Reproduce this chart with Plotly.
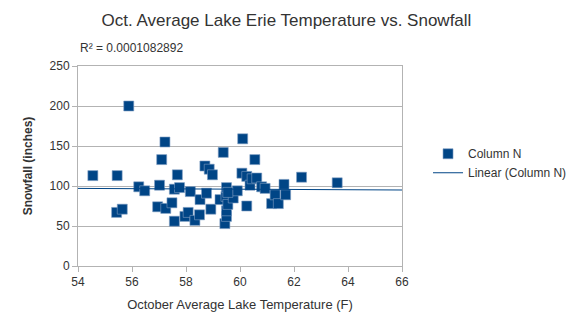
import plotly.graph_objects as go

temps = [54.55, 55.45, 55.43, 55.64, 55.88, 56.25, 56.47, 56.95, 57.02, 57.10,
         57.22, 57.25, 57.48, 57.57, 57.57, 57.68, 57.76, 57.96, 58.08, 58.16,
         58.33, 58.50, 58.52, 58.70, 58.76, 58.86, 58.92, 58.98, 59.26, 59.38,
         59.44, 59.48, 59.50, 59.50, 59.50, 59.55, 59.75, 59.90, 60.07, 60.10,
         60.25, 60.25, 60.37, 60.45, 60.55, 60.62, 60.80, 60.93, 61.17, 61.30,
         61.42, 61.63, 61.69, 62.28, 63.60, 59.55]
snow = [113, 113, 67, 71, 200, 99, 94, 74, 101, 133,
        155, 72, 79, 56, 96, 114, 98, 62, 67, 93,
        57, 64, 83, 125, 91, 121, 71, 114, 83, 142,
        53, 87, 98, 62, 69, 77, 85, 94, 116, 159,
        112, 75, 101, 109, 133, 110, 99, 97, 78, 89,
        78, 102, 89, 111, 104, 92]

trend_x = [54, 66]
trend_y = [97.0, 95.0]
r2_text = "R² = 0.0001082892"

x_ticks = [54, 56, 58, 60, 62, 64, 66]
y_ticks = [0, 50, 100, 150, 200, 250]

blue = "#004586"
grid = "#b3b3b3"
font = "Liberation Sans, Arial, sans-serif"

fig = go.Figure()
fig.add_trace(go.Scatter(
    x=temps, y=snow, mode="markers", name="Column N",
    marker=dict(symbol="square", size=10, color=blue,
                line=dict(width=0.6, color="#7f9ec2")),
    cliponaxis=False,
))
fig.add_trace(go.Scatter(
    x=trend_x, y=trend_y, mode="lines", name="Linear (Column N)",
    line=dict(color=blue, width=1),
))

fig.update_layout(
    width=573, height=330,
    margin=dict(l=78, r=171, t=66, b=64, autoexpand=False),
    paper_bgcolor="white", plot_bgcolor="white",
    font=dict(family=font, size=12, color="#333333"),
    title=dict(text="Oct. Average Lake Erie Temperature vs. Snowfall",
               x=0.5, xanchor="center", y=0.94, yanchor="middle",
               font=dict(size=17, color="#333333")),
    showlegend=True,
    legend=dict(xref="container", yref="container", x=0.747, y=0.578,
                xanchor="left", yanchor="top",
                bgcolor="rgba(0,0,0,0)", font=dict(size=12, color="#333333"),
                tracegroupgap=0),
    xaxis=dict(range=[54, 66], tickvals=x_ticks, showgrid=False,
               showline=True, linecolor=grid, linewidth=1, mirror=True,
               ticks="outside", ticklen=5, tickcolor=grid, zeroline=False,
               title=dict(text="October Average Lake Temperature (F)",
                          font=dict(size=13, color="#333333"), standoff=11)),
    yaxis=dict(range=[0, 250], tickvals=y_ticks, showgrid=True, gridcolor=grid,
               showline=True, linecolor=grid, linewidth=1, mirror=True,
               ticks="outside", ticklen=5, tickcolor=grid, zeroline=False,
               title=dict(text="<b>Snowfall (inches)</b>",
                          font=dict(size=12, color="#333333"), standoff=14)),
    annotations=[dict(text=r2_text, xref="paper", yref="paper", x=0.0, y=1.09,
                      xanchor="left", yanchor="middle", showarrow=False,
                      font=dict(size=12, color="#333333"))],
)

fig.write_html("out.html")
